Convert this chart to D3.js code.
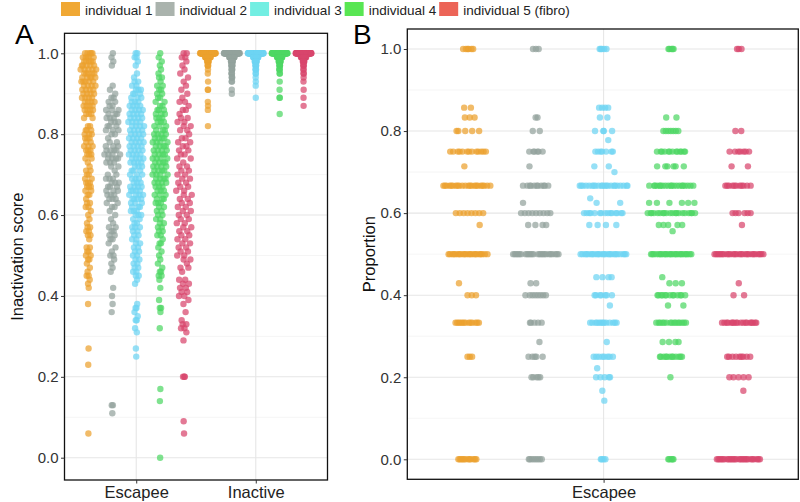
<!DOCTYPE html>
<html><head><meta charset="utf-8">
<script src="https://cdn.jsdelivr.net/npm/d3@7"></script>
<style>body{margin:0;background:#fff;} svg{display:block;font-family:"Liberation Sans",Arial,sans-serif;}</style>
</head><body><svg id="chart" width="800" height="502"></svg>
<script>
// ---------------- data ----------------
const seriesNames = ["individual 1","individual 2","individual 3","individual 4","individual 5 (fibro)"];
const pointColors = ["#EBA12E","#93A29D","#6DD4F2","#4ED764","#D8456C"];
const legendColors = ["#F0A834","#AAB3AD","#72EEE2","#58E653","#EC6457"];
const categoriesA = ["Escapee","Inactive"];
const categoriesB = ["Escapee"];
const yTickValues = [0,0.2,0.4,0.6,0.8,1.0];
const yMinorValues = [0.1,0.3,0.5,0.7,0.9];

// Panel A: inactivation score, [value, count]
const escapee1 = [[1.00,5],[0.99,5],[0.98,5],[0.97,5],[0.96,5],[0.95,5],[0.94,5],[0.93,5],[0.92,4],[0.91,4],[0.90,4],[0.89,4],[0.88,4],[0.87,4],[0.86,4],[0.85,3],[0.84,2],[0.82,2],[0.81,3],[0.80,3],[0.79,3],[0.78,2],[0.77,3],[0.76,3],[0.75,3],[0.74,2],[0.73,1],[0.72,1],[0.71,2],[0.70,2],[0.69,2],[0.68,3],[0.67,3],[0.66,2],[0.65,2],[0.64,1],[0.63,2],[0.62,2],[0.61,1],[0.60,1],[0.59,1],[0.58,1],[0.57,2],[0.56,2],[0.55,2],[0.54,1],[0.52,2],[0.51,2],[0.50,2],[0.49,2],[0.48,1],[0.47,1],[0.46,1],[0.45,2],[0.44,1],[0.43,1],[0.42,1],[0.38,1],[0.27,1],[0.23,1],[0.06,1]];
const escapee2 = [[1.00,1],[0.99,1],[0.98,1],[0.97,1],[0.92,1],[0.91,1],[0.90,1],[0.89,2],[0.88,2],[0.87,2],[0.86,3],[0.85,3],[0.84,3],[0.83,3],[0.82,3],[0.81,3],[0.80,2],[0.79,1],[0.78,2],[0.77,3],[0.76,4],[0.75,4],[0.74,4],[0.73,3],[0.72,2],[0.71,1],[0.70,2],[0.69,3],[0.68,3],[0.67,3],[0.66,3],[0.65,3],[0.64,3],[0.63,2],[0.62,2],[0.61,1],[0.60,1],[0.59,1],[0.58,1],[0.57,2],[0.56,2],[0.55,2],[0.54,2],[0.53,1],[0.52,1],[0.51,1],[0.50,2],[0.49,1],[0.48,1],[0.47,1],[0.46,1],[0.42,1],[0.40,1],[0.38,1],[0.36,1],[0.13,2],[0.11,1]];
const escapee3 = [[1.00,2],[0.99,2],[0.98,1],[0.97,1],[0.95,1],[0.94,1],[0.93,2],[0.92,2],[0.91,3],[0.90,3],[0.89,3],[0.88,3],[0.87,4],[0.86,4],[0.85,4],[0.84,4],[0.83,4],[0.82,4],[0.81,4],[0.80,4],[0.79,4],[0.78,4],[0.77,4],[0.76,4],[0.75,4],[0.74,4],[0.73,4],[0.72,3],[0.71,3],[0.70,3],[0.69,3],[0.68,3],[0.67,4],[0.66,4],[0.65,4],[0.64,4],[0.63,3],[0.62,3],[0.61,3],[0.60,3],[0.59,2],[0.58,2],[0.57,3],[0.56,2],[0.55,2],[0.54,2],[0.53,2],[0.52,2],[0.51,2],[0.50,2],[0.49,2],[0.48,2],[0.47,2],[0.46,2],[0.45,2],[0.44,1],[0.43,1],[0.38,1],[0.37,2],[0.36,1],[0.35,1],[0.34,2],[0.32,1],[0.31,1],[0.27,1],[0.25,1]];
const escapee4 = [[1.00,1],[0.99,1],[0.98,1],[0.97,1],[0.96,1],[0.95,1],[0.94,2],[0.93,1],[0.92,2],[0.91,2],[0.90,2],[0.89,2],[0.88,2],[0.87,2],[0.86,3],[0.85,3],[0.84,3],[0.83,3],[0.82,3],[0.81,3],[0.80,4],[0.79,4],[0.78,4],[0.77,4],[0.76,4],[0.75,4],[0.74,4],[0.73,4],[0.72,4],[0.71,4],[0.70,4],[0.69,4],[0.68,4],[0.67,3],[0.66,3],[0.65,3],[0.64,3],[0.63,3],[0.62,2],[0.61,2],[0.60,2],[0.59,2],[0.58,2],[0.57,2],[0.56,2],[0.55,2],[0.54,1],[0.53,2],[0.52,1],[0.51,1],[0.50,1],[0.49,1],[0.48,1],[0.47,1],[0.46,2],[0.45,2],[0.44,1],[0.42,1],[0.39,1],[0.37,2],[0.36,1],[0.32,1],[0.17,1],[0.14,1],[0.00,1]];
const escapee5 = [[1.00,2],[0.99,2],[0.98,1],[0.97,1],[0.96,1],[0.95,1],[0.94,1],[0.93,1],[0.92,1],[0.91,1],[0.90,1],[0.89,1],[0.88,2],[0.87,1],[0.86,2],[0.85,1],[0.84,2],[0.83,2],[0.82,2],[0.81,2],[0.80,1],[0.79,2],[0.78,2],[0.77,2],[0.76,2],[0.75,2],[0.74,2],[0.73,1],[0.72,2],[0.71,2],[0.70,2],[0.69,2],[0.68,2],[0.67,2],[0.66,2],[0.65,2],[0.64,2],[0.63,2],[0.62,2],[0.61,2],[0.60,2],[0.59,2],[0.58,2],[0.57,2],[0.56,2],[0.55,2],[0.54,2],[0.53,2],[0.52,2],[0.51,2],[0.50,2],[0.49,2],[0.48,1],[0.47,2],[0.46,1],[0.44,2],[0.43,2],[0.42,2],[0.41,2],[0.40,2],[0.39,1],[0.38,1],[0.36,1],[0.34,1],[0.33,2],[0.32,2],[0.31,1],[0.29,1],[0.20,3],[0.09,1],[0.06,1]];
const inactive1 = [[1.00,55],[0.99,20],[0.98,6],[0.97,3],[0.96,1],[0.95,1],[0.93,1],[0.91,2],[0.88,1],[0.87,1],[0.86,1],[0.82,1]];
const inactive2 = [[1.00,60],[0.99,20],[0.98,8],[0.97,5],[0.96,4],[0.95,3],[0.94,3],[0.93,2],[0.91,1],[0.90,1]];
const inactive3 = [[1.00,60],[0.99,20],[0.98,8],[0.97,4],[0.96,3],[0.95,2],[0.94,1],[0.93,1],[0.92,1],[0.89,1]];
const inactive4 = [[1.00,60],[0.99,20],[0.98,8],[0.97,4],[0.96,3],[0.95,2],[0.93,1],[0.91,1],[0.89,2],[0.85,1]];
const inactive5 = [[1.00,60],[0.99,20],[0.98,6],[0.97,3],[0.96,2],[0.95,2],[0.94,1],[0.93,1],[0.91,1],[0.89,1],[0.87,1]];

// Panel B: proportion, [value, count]
const proportion1 = [[1,6],[0.857,2],[0.833,3],[0.8,5],[0.75,13],[0.714,1],[0.667,22],[0.6,8],[0.571,1],[0.5,22],[0.429,1],[0.4,3],[0.333,13],[0.25,3],[0,12]];
const proportion2 = [[1,3],[0.833,2],[0.8,2],[0.75,6],[0.714,1],[0.667,11],[0.625,1],[0.6,9],[0.571,4],[0.5,24],[0.429,2],[0.4,8],[0.333,5],[0.286,1],[0.25,5],[0.2,5],[0,8]];
const proportion3 = [[1,5],[0.857,4],[0.833,2],[0.8,4],[0.778,1],[0.75,7],[0.714,2],[0.7,1],[0.667,22],[0.636,1],[0.625,2],[0.6,15],[0.571,4],[0.5,24],[0.444,4],[0.4,7],[0.375,1],[0.333,13],[0.286,1],[0.25,8],[0.222,1],[0.2,5],[0.167,1],[0.143,1],[0,4]];
const proportion4 = [[1,5],[0.833,2],[0.8,7],[0.75,13],[0.714,6],[0.667,20],[0.625,6],[0.6,20],[0.571,5],[0.556,1],[0.5,24],[0.444,1],[0.429,3],[0.4,13],[0.375,2],[0.333,15],[0.286,4],[0.25,12],[0.2,1],[0,5]];
const proportion5 = [[1,3],[0.8,2],[0.75,7],[0.714,2],[0.667,11],[0.6,6],[0.571,1],[0.5,26],[0.429,1],[0.4,2],[0.333,18],[0.25,9],[0.2,5],[0.167,1],[0,26]];

const escapeeSeries = [escapee1,escapee2,escapee3,escapee4,escapee5];
const inactiveSeries = [inactive1,inactive2,inactive3,inactive4,inactive5];
const proportionSeries = [proportion1,proportion2,proportion3,proportion4,proportion5];

// ---------------- helpers ----------------
const expand = pairs => pairs.flatMap(([v,c]) => d3.range(c).map(() => v));
function vdc(n){ let q=0, bk=0.5; while(n>0){ q += (n%2)*bk; n=Math.floor(n/2); bk/=2; } return q; }
// quasirandom (vipor-like) horizontal offsets in [-1,1] scaled by density
function quasiOffsets(values, adjust){
  const n = values.length;
  const sorted = values.slice().sort((a,b)=>a-b);
  const sd = d3.deviation(values) || 0;
  const iqr = d3.quantile(sorted,0.75) - d3.quantile(sorted,0.25);
  let lo = Math.min(sd, iqr/1.34);
  if(!(lo>0)) lo = sd || 1;
  const bw = 0.9*lo*Math.pow(n,-0.2)*adjust;
  const dens = v => d3.sum(values, x => Math.exp(-0.5*((v-x)/bw)**2));
  const dv = values.map(dens);
  const maxd = d3.max(dv);
  const order = d3.range(n).sort((a,b)=> values[a]-values[b] || a-b);
  const rank = new Array(n); order.forEach((i,r)=> rank[i]=r+1);
  return values.map((v,i)=> (vdc(rank[i])-0.5)*2*dv[i]/maxd);
}

const svg = d3.select("#chart");
const font = '"Liberation Sans", Arial, sans-serif';

// ---------------- legend ----------------
const legend = svg.append("g");
let lx = 61;
seriesNames.forEach((name,i)=>{
  legend.append("rect").attr("x",lx).attr("y",2).attr("width",19).attr("height",14).attr("fill",legendColors[i]);
  const t = legend.append("text").attr("x",lx+24).attr("y",14.5).attr("font-size",13.5).attr("fill","#222").text(name);
  lx += 24 + t.node().getComputedTextLength() + 3;
});

// ---------------- panel builder ----------------
function panel(opts){
  const {x0,x1,y0,y1,xScale,dodge,yScale,label,labelX,yTitle,yTitleX,groups,W} = opts;
  const g = svg.append("g");
  g.selectAll(".minor").data(yMinorValues).join("line")
    .attr("x1",x0).attr("x2",x1).attr("y1",d=>yScale(d)).attr("y2",d=>yScale(d))
    .attr("stroke","#F1F1F1").attr("stroke-width",0.7);
  g.selectAll(".major").data(yTickValues).join("line")
    .attr("x1",x0).attr("x2",x1).attr("y1",d=>yScale(d)).attr("y2",d=>yScale(d))
    .attr("stroke","#E6E6E6").attr("stroke-width",1.1);
  g.selectAll(".vmajor").data(xScale.domain()).join("line")
    .attr("x1",d=>xScale(d)).attr("x2",d=>xScale(d)).attr("y1",y0).attr("y2",y1)
    .attr("stroke","#E6E6E6").attr("stroke-width",1.1);
  groups.forEach(grp=>{
    const vals = expand(grp.data);
    const offs = quasiOffsets(vals, 0.5);
    const cx = xScale(grp.cat) + dodge(grp.idx);
    g.append("g").selectAll("circle").data(vals).join("circle")
      .attr("cx",(d,i)=> cx + offs[i]*W)
      .attr("cy",d=>yScale(d))
      .attr("r",3.2)
      .attr("fill",pointColors[grp.idx])
      .attr("fill-opacity",0.72);
  });
  g.append("rect").attr("x",x0).attr("y",y0).attr("width",x1-x0).attr("height",y1-y0)
    .attr("fill","none").attr("stroke","#111").attr("stroke-width",1.3);
  const ya = g.append("g").attr("transform",`translate(${x0},0)`)
    .call(d3.axisLeft(yScale).tickValues(yTickValues).tickFormat(d3.format(".1f")).tickSize(3.5).tickPadding(2.5));
  ya.select(".domain").remove();
  ya.selectAll("line").attr("stroke","#333");
  ya.selectAll("text").attr("font-size",15).attr("font-family",font).attr("fill","#333");
  const xa = g.append("g").attr("transform",`translate(0,${y1})`)
    .call(d3.axisBottom(xScale).tickSize(3.5).tickPadding(3));
  xa.select(".domain").remove();
  xa.selectAll("line").attr("stroke","#333");
  xa.selectAll("text").attr("font-size",16.5).attr("font-family",font).attr("fill","#222");
  g.append("text").attr("transform",`translate(${yTitleX},${(y0+y1)/2}) rotate(-90)`)
    .attr("text-anchor","middle").attr("font-size",16.5).attr("fill","#111").text(yTitle);
  g.append("text").attr("x",labelX).attr("y",44).attr("font-size",28).attr("fill","#000").text(label);
}

// Panel A
const AX0=64.5, AX1=327.5, AY0=33.3, AY1=480;
const xA = d3.scalePoint().domain(categoriesA).range([AX0,AX1]).padding(0.6);
const dodgeA = d3.scalePoint().domain(d3.range(5)).range([-0.4*xA.step(), 0.4*xA.step()]);
const yA = d3.scaleLinear().domain([0,1]).range([457.7,53.3]);
const groupsA = [];
escapeeSeries.forEach((d,i)=>groupsA.push({cat:"Escapee",idx:i,data:d}));
inactiveSeries.forEach((d,i)=>groupsA.push({cat:"Inactive",idx:i,data:d}));
panel({x0:AX0,x1:AX1,y0:AY0,y1:AY1,xScale:xA,dodge:dodgeA,yScale:yA,label:"A",labelX:15,
  yTitle:"Inactivation score",yTitleX:23,groups:groupsA,W:8});

// Panel B
const BX0=407.3, BX1=798.3, BY0=29, BY1=479.3;
const xB = d3.scalePoint().domain(categoriesB).range([BX0+1.6,BX1]).padding(0.5);
const unitB = (BX1-BX0)/1.2;
const dodgeB = d3.scalePoint().domain(d3.range(5)).range([-0.416*unitB, 0.416*unitB]);
const yB = d3.scaleLinear().domain([0,1]).range([459.3,49]);
const groupsB = proportionSeries.map((d,i)=>({cat:"Escapee",idx:i,data:d}));
panel({x0:BX0,x1:BX1,y0:BY0,y1:BY1,xScale:xB,dodge:dodgeB,yScale:yB,label:"B",labelX:353,
  yTitle:"Proportion",yTitleX:375,groups:groupsB,W:25});
</script></body></html>
